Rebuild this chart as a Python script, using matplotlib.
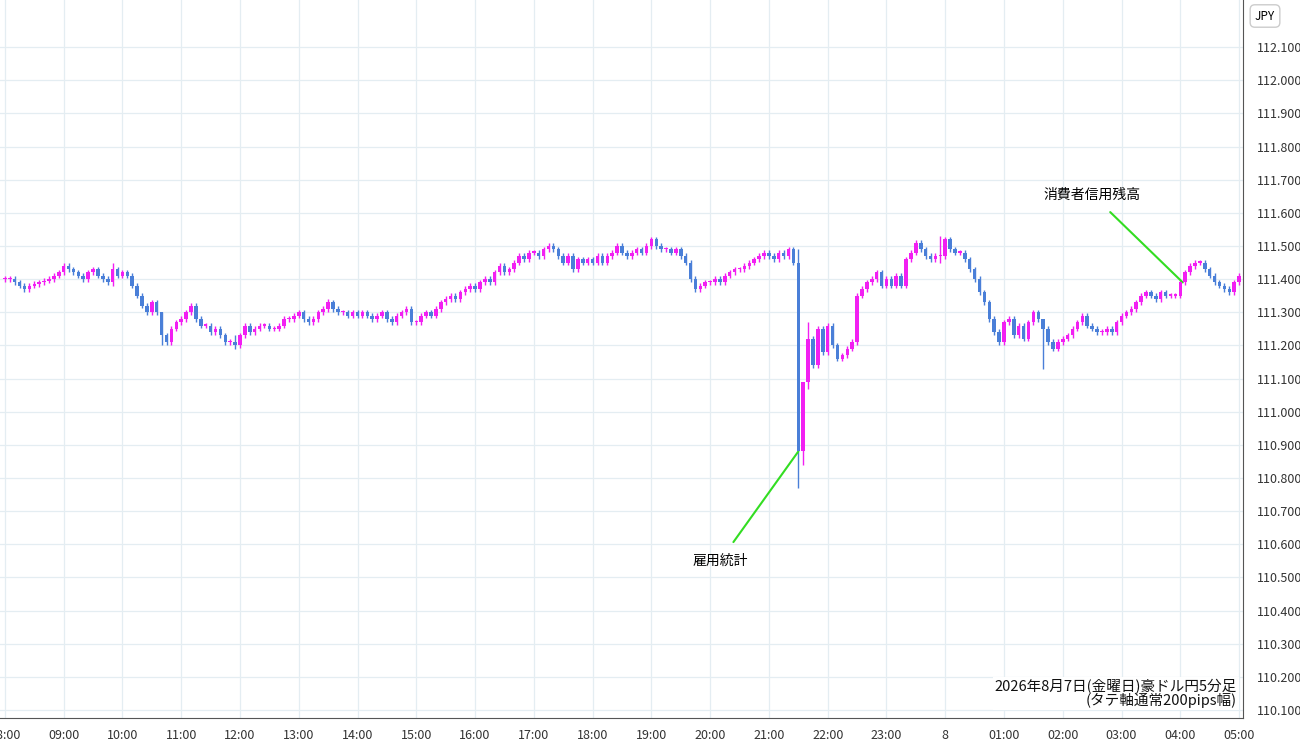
import numpy as np
import matplotlib.pyplot as plt

plt.rcParams['font.family'] = ['Noto Sans CJK JP', 'DejaVu Sans']

# 5-minute closes, 08:00 (Aug 7) to 05:00 (Aug 8), AUD/JPY
closes = [
    111.40, 111.40, 111.39, 111.38, 111.37, 111.38, 111.385, 111.39, 111.395, 111.40, 111.41, 111.42,  # 08
    111.44, 111.43, 111.42, 111.41, 111.40, 111.42, 111.43, 111.41, 111.40, 111.39, 111.43, 111.41,  # 09
    111.42, 111.41, 111.38, 111.35, 111.32, 111.30, 111.33, 111.30, 111.23, 111.21, 111.25, 111.27,  # 10
    111.28, 111.30, 111.32, 111.28, 111.26, 111.26, 111.24, 111.25, 111.23, 111.21, 111.21, 111.20,  # 11
    111.23, 111.26, 111.24, 111.25, 111.26, 111.26, 111.25, 111.25, 111.26, 111.28, 111.28, 111.29,  # 12
    111.30, 111.28, 111.27, 111.28, 111.30, 111.31, 111.33, 111.31, 111.30, 111.30, 111.29, 111.30,  # 13
    111.29, 111.30, 111.29, 111.28, 111.29, 111.30, 111.28, 111.27, 111.29, 111.30, 111.31, 111.27,  # 14
    111.27, 111.29, 111.30, 111.29, 111.31, 111.33, 111.34, 111.35, 111.34, 111.36, 111.37, 111.38,  # 15
    111.37, 111.39, 111.40, 111.39, 111.42, 111.44, 111.42, 111.43, 111.45, 111.47, 111.46, 111.48,  # 16
    111.48, 111.47, 111.49, 111.50, 111.49, 111.47, 111.45, 111.47, 111.43, 111.46, 111.45, 111.46,  # 17
    111.45, 111.47, 111.45, 111.47, 111.48, 111.50, 111.48, 111.47, 111.48, 111.49, 111.48, 111.50,  # 18
    111.52, 111.50, 111.49, 111.49, 111.48, 111.49, 111.47, 111.45, 111.40, 111.37, 111.38, 111.39,  # 19
    111.39, 111.40, 111.39, 111.41, 111.42, 111.43, 111.43, 111.44, 111.45, 111.46, 111.47, 111.48,  # 20
    111.47, 111.46, 111.48, 111.47, 111.49, 111.45, 110.88, 111.09, 111.22, 111.14, 111.25, 111.18,  # 21
    111.26, 111.20, 111.16, 111.17, 111.19, 111.21, 111.35, 111.37, 111.39, 111.40, 111.42, 111.38,  # 22
    111.40, 111.38, 111.41, 111.38, 111.46, 111.48, 111.51, 111.49, 111.47, 111.46, 111.47, 111.47,  # 23
    111.52, 111.49, 111.48, 111.48, 111.46, 111.43, 111.40, 111.36, 111.33, 111.28, 111.24, 111.21,  # 00
    111.27, 111.28, 111.23, 111.26, 111.22, 111.27, 111.30, 111.28, 111.25, 111.21, 111.19, 111.21,  # 01
    111.22, 111.23, 111.25, 111.27, 111.29, 111.26, 111.25, 111.24, 111.24, 111.25, 111.24, 111.27,  # 02
    111.29, 111.30, 111.31, 111.33, 111.35, 111.36, 111.35, 111.34, 111.36, 111.35, 111.35, 111.35,  # 03
    111.39, 111.42, 111.44, 111.45, 111.45, 111.43, 111.41, 111.39, 111.38, 111.37, 111.36, 111.39,  # 04
    111.41,  # 05
]
first_open = 111.40
# notable wick extremes: index -> (high, low)
wick_overrides = {
    22: (111.45, 111.38), 32: (111.30, 111.20), 47: (111.23, 111.19),
    66: (111.34, 111.30), 162: (111.49, 110.77), 163: (111.09, 110.84),
    164: (111.27, 111.07), 191: (111.53, 111.45), 212: (111.22, 111.13),
}
hour_labels = ['08:00', '09:00', '10:00', '11:00', '12:00', '13:00', '14:00', '15:00',
               '16:00', '17:00', '18:00', '19:00', '20:00', '21:00', '22:00', '23:00',
               '8', '01:00', '02:00', '03:00', '04:00', '05:00']
price_ticks = [110.1, 110.2, 110.3, 110.4, 110.5, 110.6, 110.7, 110.8, 110.9, 111.0,
               111.1, 111.2, 111.3, 111.4, 111.5, 111.6, 111.7, 111.8, 111.9, 112.0, 112.1]

UP = '#f21ff2'
DOWN = '#4a7fd8'

fig = plt.figure(figsize=(13, 7.45), dpi=100)
ax = fig.add_axes([0, 27 / 745, 1243 / 1300, 718 / 745])

opens = [first_open] + closes[:-1]
for i, (o, c) in enumerate(zip(opens, closes)):
    col = UP if c >= o else DOWN
    hi, lo = max(o, c) + 0.008, min(o, c) - 0.008
    if i in wick_overrides:
        hi = max(wick_overrides[i][0], max(o, c))
        lo = min(wick_overrides[i][1], min(o, c))
    ax.vlines(i, lo, hi, color=col, lw=1.0, zorder=3)
    body = max(abs(c - o), 0.004)
    ax.bar(i, body, bottom=min(o, c), width=0.72, color=col, zorder=4, linewidth=0)

ax.set_xlim(-1, 252.8)
ax.set_ylim(110.076, 112.242)
ax.set_xticks(np.arange(len(hour_labels)) * 12)
ax.set_xticklabels(hour_labels)
ax.set_yticks(price_ticks)
ax.set_yticklabels(['%.3f' % p for p in price_ticks])
ax.yaxis.tick_right()
ax.tick_params(axis='both', length=0, labelsize=9, colors='#333333', pad=10)
ax.tick_params(axis='x', pad=8)
ax.grid(True, color='#e4edf2', lw=0.9, zorder=0)
for s in ['top', 'left']:
    ax.spines[s].set_visible(False)
ax.spines['right'].set_color('#555555')
ax.spines['bottom'].set_color('#555555')

green = '#33dd22'
ax.annotate('雇用統計', xy=(162, 110.88), xytext=(146, 110.55), ha='center', va='center',
            fontsize=10, arrowprops=dict(arrowstyle='-', color=green, lw=1.5, shrinkA=8, shrinkB=0))
ax.annotate('消費者信用残高', xy=(240.5, 111.39), xytext=(222, 111.655), ha='center', va='center',
            fontsize=10, arrowprops=dict(arrowstyle='-', color=green, lw=1.5, shrinkA=8, shrinkB=0))

ax.text(251.6, 110.105, '2026年8月7日(金曜日)豪ドル円5分足\n(タテ軸通常200pips幅)', ha='right', va='bottom',
        fontsize=10.5, linespacing=0.95, color='#111111', zorder=6,
        bbox=dict(facecolor='white', edgecolor='none', pad=1))

fig.text(1265 / 1300, 1 - 16 / 745, 'JPY', ha='center', va='center', fontsize=8.5,
         bbox=dict(facecolor='white', edgecolor='#cccccc', boxstyle='round,pad=0.4'))

fig.savefig('out.png', dpi=100)
